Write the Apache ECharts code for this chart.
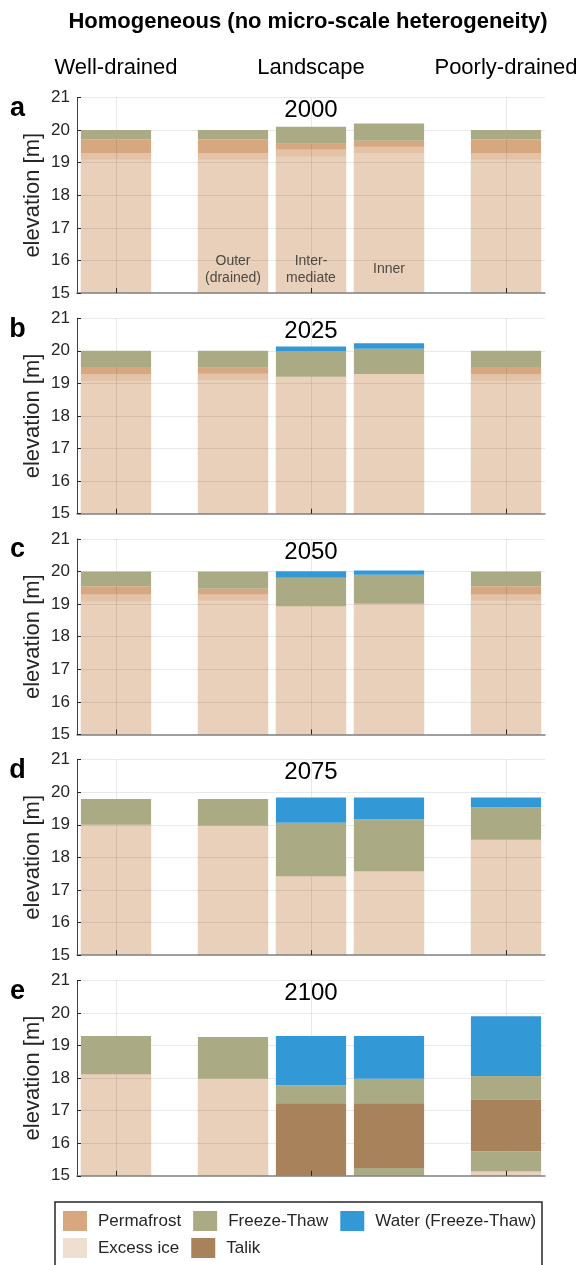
<!DOCTYPE html>
<html>
<head>
<meta charset="utf-8">
<script src="https://cdn.jsdelivr.net/npm/echarts@6.0.0/dist/echarts.min.js"></script>
<style>
html,body{margin:0;padding:0;background:#fff;}
#chart{width:587px;height:1265px;}
</style>
</head>
<body>
<div id="chart"></div>
<script>
// ---------------- data ----------------
const years = [2000, 2025, 2050, 2075, 2100];
const panelLetters = ['a', 'b', 'c', 'd', 'e'];
const sites = ['Well-drained', 'Outer (drained)', 'Intermediate', 'Inner', 'Poorly-drained'];
const sitePos = [0, 1.5, 2.5, 3.5, 5];
const siteLabels = [[1, 'Outer\n(drained)'], [2, 'Inter-\nmediate'], [3, 'Inner']];
const siteLabelY = 15.72;
const headers = [['Well-drained', 0], ['Landscape', 2.5], ['Poorly-drained', 5]];
const yMin = 15, yMax = 21, yStep = 1;
const gridXs = [0, 2.5, 5];

// segments: [siteIndex, bottom, top] for each panel
const permafrost = [
  [[0,15,19.72],[1,15,19.72],[2,15,19.58],[3,15,19.67],[4,15,19.72]],
  [[0,15,19.5],[1,15,19.48],[2,15,19.2],[3,15,19.29],[4,15,19.5]],
  [[0,15,19.55],[1,15,19.47],[2,15,18.93],[3,15,19.01],[4,15,19.55]],
  [[0,15,19.0],[1,15,18.97],[2,15,17.42],[3,15,17.57],[4,15,18.54]],
  [[0,15,18.12],[1,15,17.98],[4,15,15.14]]
];
const excessIceUpper = [
  [[0,15,19.3],[1,15,19.3],[2,15,19.41],[3,15,19.49],[4,15,19.3]],
  [[0,15,19.29],[1,15,19.3],[2,15,19.2],[3,15,19.29],[4,15,19.29]],
  [[0,15,19.3],[1,15,19.3],[2,15,18.93],[3,15,19.01],[4,15,19.3]],
  [[0,15,19.0],[1,15,18.97],[2,15,17.42],[3,15,17.57],[4,15,18.54]],
  [[0,15,18.12],[1,15,17.98],[4,15,15.14]]
];
const excessIceLower = [
  [[0,15,19.1],[1,15,19.1],[2,15,19.19],[3,15,19.3],[4,15,19.1]],
  [[0,15,19.08],[1,15,19.1],[2,15,19.2],[3,15,19.29],[4,15,19.08]],
  [[0,15,19.09],[1,15,19.1],[2,15,18.93],[3,15,19.01],[4,15,19.1]],
  [[0,15,19.0],[1,15,18.97],[2,15,17.42],[3,15,17.57],[4,15,18.54]],
  [[0,15,18.12],[1,15,17.98],[4,15,15.14]]
];
const freezeThaw = [
  [[0,19.72,20.0],[1,19.72,20.0],[2,19.58,20.1],[3,19.67,20.2],[4,19.72,20.0]],
  [[0,19.5,20.0],[1,19.48,20.0],[2,19.2,19.98],[3,19.29,20.06],[4,19.5,20.0]],
  [[0,19.55,20.0],[1,19.47,20.0],[2,18.93,19.81],[3,19.01,19.9],[4,19.55,20.0]],
  [[0,19.0,19.79],[1,18.97,19.79],[2,17.42,19.06],[3,17.57,19.16],[4,18.54,19.53]],
  [[0,18.12,19.29],[1,17.98,19.26],[2,17.23,17.78],[3,17.23,17.98],[3,15,15.24],[4,17.34,18.06],[4,15.14,15.75]]
];
const water = [
  [],
  [[2,19.98,20.13],[3,20.06,20.23]],
  [[2,19.81,20.01],[3,19.9,20.03]],
  [[2,19.06,19.84],[3,19.16,19.84],[4,19.53,19.84]],
  [[2,17.78,19.29],[3,17.98,19.29],[4,18.06,19.9]]
];
const talik = [
  [], [], [], [],
  [[2,15,17.23],[3,15.24,17.23],[4,15.75,17.34]]
];

// ---------------- style / layout ----------------
const FONT = "'Liberation Sans', Arial, Helvetica, sans-serif";
const TXT = '#262626';
const GRID_LEFT = 77, GRID_W = 468, GRID_TOP0 = 97.5, GRID_STEP = 220.7, GRID_H = 195.5;
const BAR_W = 0.9;
const COLORS = {
  permafrost: '#d7a880',
  excess: '#eedecd',
  excessLegend: '#eedfd0',
  freeze: '#aaab85',
  water: '#3399d6',
  talik: '#a8825a'
};

function rectRenderer(fill, opacity) {
  return function (params, api) {
    const x = api.value(0), y0 = api.value(1), y1 = api.value(2);
    const a = api.coord([x, y0]);
    const b = api.coord([x, y1]);
    const w = api.size([BAR_W, 0])[0];
    return {
      type: 'rect',
      shape: { x: a[0] - w / 2, y: b[1], width: w, height: a[1] - b[1] },
      style: { fill: fill, opacity: opacity }
    };
  };
}

function layer(name, p, segs, fill, opacity, legendColor, z) {
  return {
    type: 'custom', name: name,
    xAxisIndex: p, yAxisIndex: p,
    data: segs.map(s => [sitePos[s[0]], s[1], s[2]]),
    encode: { x: 0, y: [1, 2] },
    renderItem: rectRenderer(fill, opacity),
    itemStyle: { color: legendColor },
    z: z, silent: true, animation: false
  };
}

const grids = [], xAxes = [], yAxes = [], series = [], graphics = [];

graphics.push({
  type: 'text', x: 308, y: 22,
  style: { text: 'Homogeneous (no micro-scale heterogeneity)', font: 'bold 22px ' + FONT, fill: '#000', align: 'center', verticalAlign: 'middle' }
});

for (let p = 0; p < years.length; p++) {
  const top = GRID_TOP0 + p * GRID_STEP;
  grids.push({ left: GRID_LEFT, top: top, width: GRID_W, height: GRID_H });
  xAxes.push({
    type: 'value', gridIndex: p, min: -0.5, max: 5.5, z: 10,
    axisLine: { show: true, onZero: false, lineStyle: { color: '#7f7f7f', width: 1.5 } },
    axisTick: { show: true, inside: true, length: 5, customValues: gridXs, lineStyle: { color: TXT } },
    axisLabel: { show: false },
    splitLine: { show: false }
  });
  yAxes.push({
    type: 'value', gridIndex: p, min: yMin, max: yMax, interval: yStep, z: 10,
    name: 'elevation [m]', nameLocation: 'middle', nameGap: 33, nameMoveOverlap: false,
    nameTextStyle: { fontFamily: FONT, fontSize: 22, color: TXT },
    axisLine: { show: true, onZero: false, lineStyle: { color: '#404040', width: 1 } },
    axisTick: { show: true, inside: true, length: 4, lineStyle: { color: TXT } },
    axisLabel: { fontFamily: FONT, fontSize: 17, color: TXT, margin: 7 },
    splitLine: { show: false }
  });

  series.push(layer('Permafrost', p, permafrost[p], COLORS.permafrost, 1, COLORS.permafrost, 2));
  series.push(layer('Excess ice', p, excessIceUpper[p], COLORS.excess, 0.5, COLORS.excessLegend, 3));
  series.push(layer('Excess ice', p, excessIceLower[p], COLORS.excess, 0.5, COLORS.excessLegend, 4));
  series.push(layer('Freeze-Thaw', p, freezeThaw[p], COLORS.freeze, 1, COLORS.freeze, 5));
  series.push(layer('Talik', p, talik[p], COLORS.talik, 1, COLORS.talik, 5));
  series.push(layer('Water (Freeze-Thaw)', p, water[p], COLORS.water, 1, COLORS.water, 5));

  // grid lines drawn over the bars
  const ml = [];
  for (let v = yMin + yStep; v <= yMax; v += yStep) ml.push({ yAxis: v });
  gridXs.forEach(v => ml.push({ xAxis: v }));
  series.push({
    type: 'line', name: '_grid', xAxisIndex: p, yAxisIndex: p,
    data: [[0, yMin]], showSymbol: false, symbol: 'none',
    lineStyle: { width: 0 }, z: 8, silent: true, animation: false,
    markLine: {
      silent: true, animation: false, symbol: ['none', 'none'],
      label: { show: false },
      lineStyle: { color: 'rgba(0,0,0,0.085)', width: 1, type: 'solid' },
      emphasis: { disabled: true },
      data: ml
    }
  });

  // panel letter and year
  graphics.push({
    type: 'text', x: 17.5, y: top + 11,
    style: { text: panelLetters[p], font: 'bold 27px ' + FONT, fill: '#000', align: 'center', verticalAlign: 'middle' }
  });
  graphics.push({
    type: 'text', x: GRID_LEFT + GRID_W / 2, y: top + 13,
    style: { text: String(years[p]), font: '24px ' + FONT, fill: '#000', align: 'center', verticalAlign: 'middle' }
  });
}

// site labels inside bars of panel a
series.push({
  type: 'scatter', name: '_labels', xAxisIndex: 0, yAxisIndex: 0,
  data: siteLabels.map(s => [sitePos[s[0]], siteLabelY, s[1]]),
  symbolSize: 1, itemStyle: { color: 'rgba(0,0,0,0)' }, z: 9, silent: true, animation: false,
  label: {
    show: true, position: 'inside', formatter: q => q.value[2],
    fontFamily: FONT, fontSize: 14, lineHeight: 16.5, color: TXT, align: 'center'
  }
});

// header row
headers.forEach(h => {
  graphics.push({
    type: 'text', x: GRID_LEFT + (h[1] + 0.5) / 6 * GRID_W, y: 68,
    style: { text: h[0], font: '22px ' + FONT, fill: '#000', align: 'center', verticalAlign: 'middle' }
  });
});

// legend box
graphics.push({
  type: 'rect', shape: { x: 55, y: 1202, width: 487, height: 90 },
  style: { fill: '#fff', stroke: '#262626', lineWidth: 1.5 }, z: -1
});

const legendText = { fontFamily: FONT, fontSize: 17, color: TXT, padding: [0, 0, 0, 6] };
const option = {
  backgroundColor: '#fff',
  animation: false,
  grid: grids, xAxis: xAxes, yAxis: yAxes, series: series,
  graphic: { elements: graphics },
  legend: [
    {
      left: 63, top: 1211, padding: 0, itemWidth: 24, itemHeight: 20, itemGap: 12, icon: 'rect',
      selectedMode: false, textStyle: legendText,
      data: [
        { name: 'Permafrost', itemStyle: { color: COLORS.permafrost } },
        { name: 'Freeze-Thaw', itemStyle: { color: COLORS.freeze } },
        { name: 'Water (Freeze-Thaw)', itemStyle: { color: COLORS.water } }
      ]
    },
    {
      left: 63, top: 1238, padding: 0, itemWidth: 24, itemHeight: 20, itemGap: 12, icon: 'rect',
      selectedMode: false, textStyle: legendText,
      data: [
        { name: 'Excess ice', itemStyle: { color: COLORS.excessLegend } },
        { name: 'Talik', itemStyle: { color: COLORS.talik } }
      ]
    }
  ]
};

const chart = echarts.init(document.getElementById('chart'), null, { renderer: 'canvas', width: 587, height: 1265 });
chart.setOption(option);
</script>
</body>
</html>
